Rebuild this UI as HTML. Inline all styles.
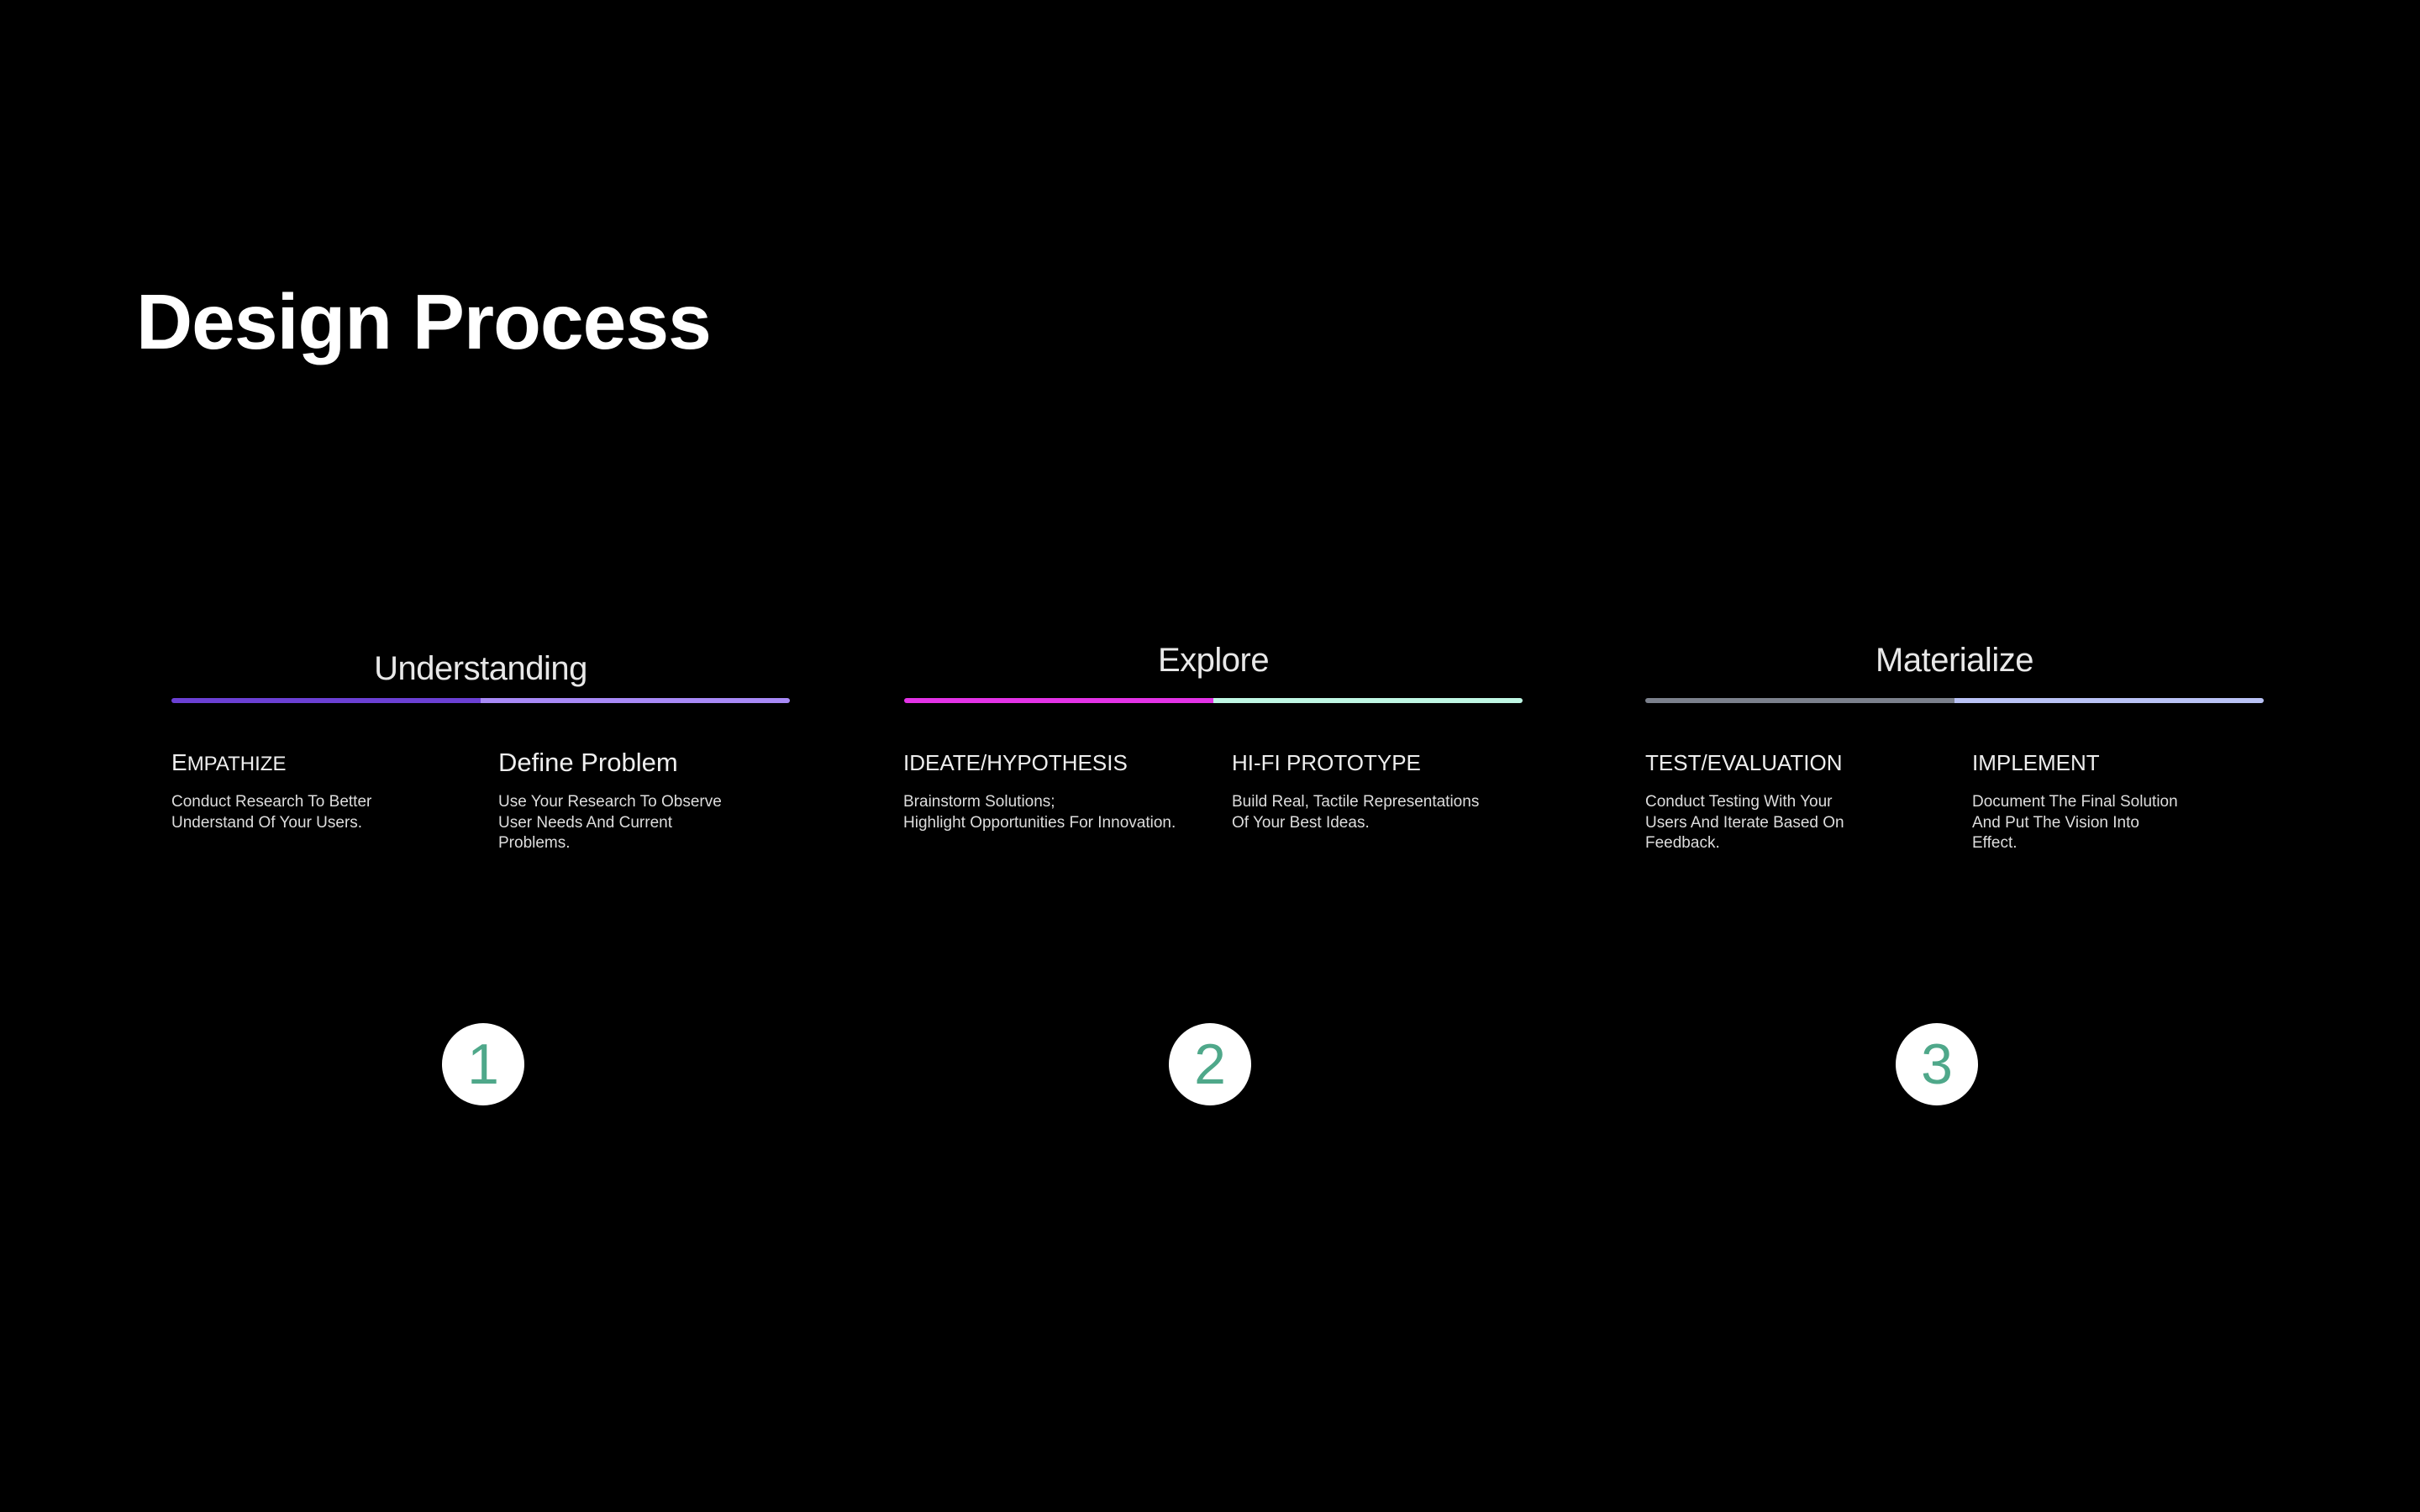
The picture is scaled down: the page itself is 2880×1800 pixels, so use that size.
<!DOCTYPE html>
<html><head><meta charset="utf-8"><style>
html,body{margin:0;padding:0;background:#000;}
body{width:2880px;height:1800px;position:relative;overflow:hidden;font-family:"Liberation Sans",sans-serif;color:#fff;}
.a{position:absolute;white-space:nowrap;}
.title{left:162px;top:330px;font-size:93px;font-weight:bold;letter-spacing:-1px;}
.gt{font-size:40px;color:#e8e8e8;width:736px;text-align:center;letter-spacing:-0.5px;}
.bar{position:absolute;top:831px;height:6px;width:736px;border-radius:3px;overflow:hidden;display:flex;}
.bar div{flex:1;}
.h{font-size:26px;color:#eee;}
.d{font-size:19px;line-height:24.5px;color:#ddd;letter-spacing:0px;}
.c{position:absolute;width:98px;height:98px;border-radius:50%;background:#fff;color:#4fa88a;font-size:68px;text-align:center;line-height:98px;top:1218px;}
</style></head><body>
<div class="a title">Design Process</div>

<div class="a gt" style="left:204px;top:774px">Understanding</div>
<div class="a gt" style="left:1076px;top:764px">Explore</div>
<div class="a gt" style="left:1958px;top:764px">Materialize</div>

<div class="bar" style="left:204px"><div style="background:#6b40d4"></div><div style="background:#a88af7"></div></div>
<div class="bar" style="left:1076px"><div style="background:#e333e6"></div><div style="background:#bff7e4"></div></div>
<div class="bar" style="left:1958px"><div style="background:#7b808c"></div><div style="background:#b9c2f5"></div></div>

<div class="a h" style="left:204px;top:892px;font-size:28px">E<span style="font-size:24px">MPATHIZE</span></div>
<div class="a d" style="left:204px;top:943px">Conduct Research To Better<br>Understand Of Your Users.</div>
<div class="a h" style="left:593px;top:890px;font-size:31px">Define Problem</div>
<div class="a d" style="left:593px;top:943px">Use Your Research To Observe<br>User Needs And Current<br>Problems.</div>

<div class="a h" style="left:1075px;top:893px">IDEATE/HYPOTHESIS</div>
<div class="a d" style="left:1075px;top:943px">Brainstorm Solutions;<br>Highlight Opportunities For Innovation.</div>
<div class="a h" style="left:1466px;top:893px">HI-FI PROTOTYPE</div>
<div class="a d" style="left:1466px;top:943px">Build Real, Tactile Representations<br>Of Your Best Ideas.</div>

<div class="a h" style="left:1958px;top:893px">TEST/EVALUATION</div>
<div class="a d" style="left:1958px;top:943px">Conduct Testing With Your<br>Users And Iterate Based On<br>Feedback.</div>
<div class="a h" style="left:2347px;top:893px">IMPLEMENT</div>
<div class="a d" style="left:2347px;top:943px">Document The Final Solution<br>And Put The Vision Into<br>Effect.</div>

<div class="c" style="left:526px">1</div>
<div class="c" style="left:1391px">2</div>
<div class="c" style="left:2256px">3</div>
</body></html>
